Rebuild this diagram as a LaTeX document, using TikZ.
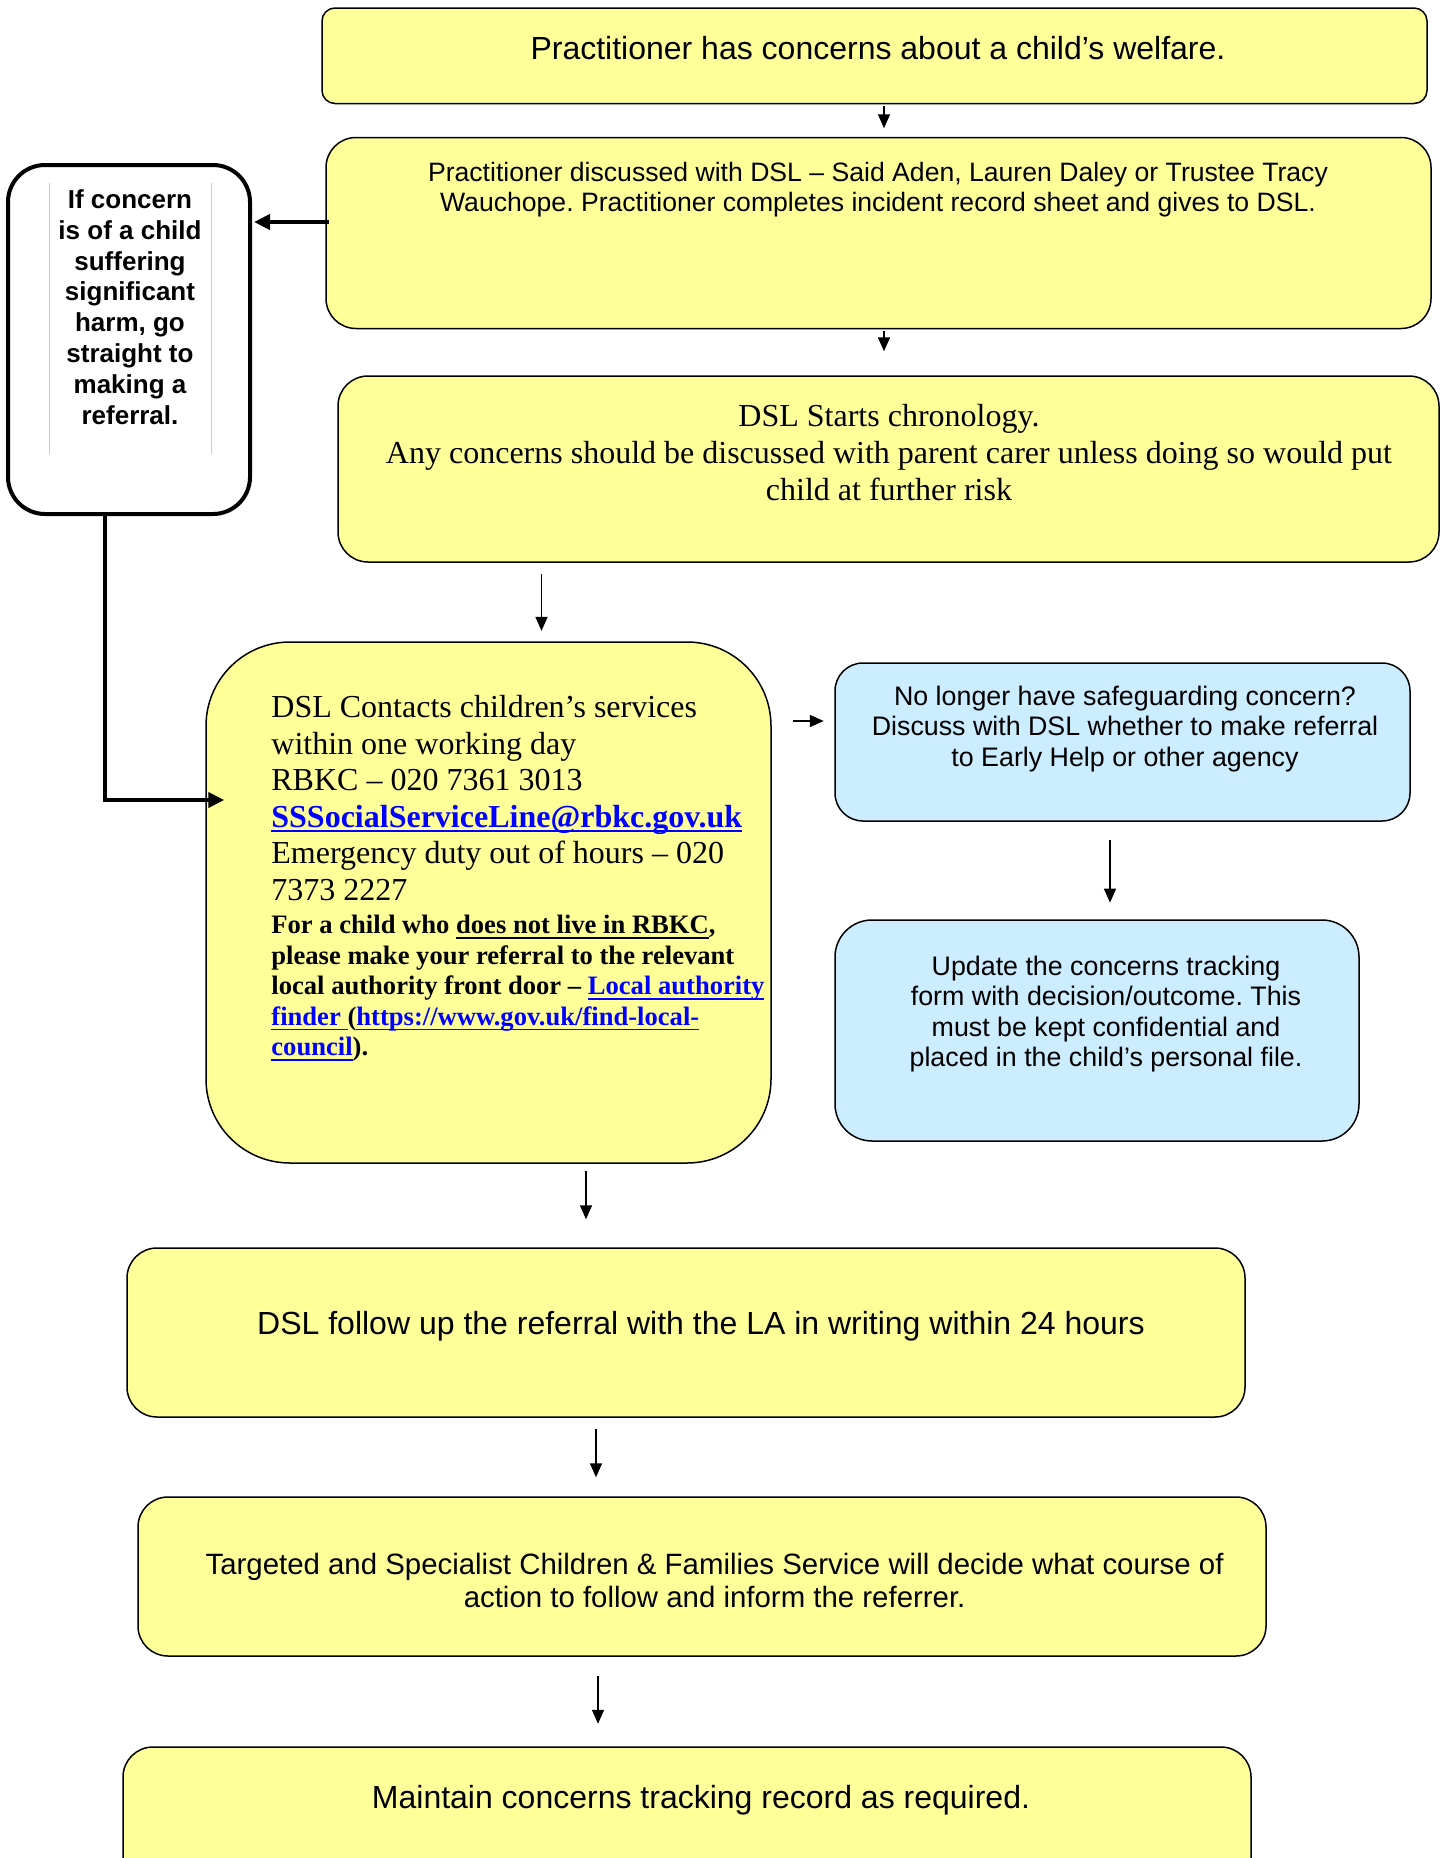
\documentclass[tikz,border=0pt]{standalone}
\usepackage{fontspec}
\setmainfont{Liberation Sans}
\newfontfamily\timesfont{Liberation Serif}
\usetikzlibrary{arrows.meta,positioning}
\frenchspacing

\definecolor{Cboxyellow}{HTML}{FFFF99}
\definecolor{Cboxblue}{HTML}{CCECFF}
\definecolor{Clinkblue}{HTML}{0000FF}

\newcommand{\undl}[1]{\leavevmode\setbox0=\hbox{#1}\rlap{\rule[-2.5pt]{\wd0}{0.9pt}}\box0}
\newcommand{\weblink}[1]{{\color{Clinkblue}\undl{#1}}}

\begin{document}
\begin{tikzpicture}[x=0.5pt,y=-0.5pt,
		yellowbox/.style={draw,line width=0.75pt,fill=Cboxyellow,rounded corners=15pt},
		bluebox/.style={draw,line width=0.75pt,fill=Cboxblue,rounded corners=14pt},
		arr/.style={line width=0.75pt,-{Triangle[length=7pt,width=6pt]}},
		thickarr/.style={line width=2pt,-{Triangle[length=8pt,width=7.5pt]}},
		txt/.style={inner sep=0pt,align=center}]
		\useasboundingbox (0,0) rectangle (1441,1858);
		\clip (0,0) rectangle (1441,1858);

		% boxes
		\node[yellowbox,rounded corners=6.5pt,minimum width=552.5pt,minimum height=47.75pt] (A) at (874.5,55.75) {};
		\node[yellowbox,minimum width=552.5pt,minimum height=95.5pt] (B) at (878.5,233) {};
		\node[yellowbox,minimum width=550.5pt,minimum height=93pt] (C) at (888.5,469) {};
		\node[yellowbox,rounded corners=42pt,minimum width=282.5pt,minimum height=260.5pt] (D) at (488.5,902.5) {};
		\node[draw,line width=2pt,rounded corners=18.5pt,minimum width=121pt,minimum height=174.5pt] (E) at (129,339.5) {};
		\node[bluebox,minimum width=287.5pt,minimum height=79pt] (F) at (1122.5,742) {};
		\node[bluebox,rounded corners=18.5pt,minimum width=262pt,minimum height=110.5pt] (G) at (1097,1030.5) {};
		\node[yellowbox,minimum width=559pt,minimum height=84.5pt] (H) at (686,1332.5) {};
		\node[yellowbox,minimum width=564pt,minimum height=79.5pt] (I) at (702,1576.5) {};
		\node[yellowbox,minimum width=564pt,minimum height=85pt] (J) at (687,1832) {};

		% texts
		\node[txt,font=\fontsize{16}{18.4}\selectfont] (Atext) at (878,48) {Practitioner has concerns about a child’s welfare.};
		\node[txt,font=\fontsize{13.3}{15}\selectfont] (Btext) at (878,190) {Practitioner discussed with DSL – Said Aden, Lauren Daley or Trustee Tracy\\Wauchope. Practitioner completes incident record sheet and gives to DSL.};
		\node[txt,font=\timesfont\fontsize{16}{18.4}\selectfont] (Ctext) at (889,452.5) {DSL Starts chronology.\\Any concerns should be discussed with parent carer unless doing so would put\\child at further risk};
		\node[txt,align=left,anchor=north west,font=\timesfont\fontsize{16}{18.25}\selectfont] (Dtext) at (271,695) {DSL Contacts children’s services\\within one working day\\RBKC – 020 7361 3013\\\textbf{\weblink{SSSocialServiceLine@rbkc.gov.uk}}\\Emergency duty out of hours – 020\\7373 2227};
		\node[txt,align=left,anchor=north west,font=\timesfont\bfseries\fontsize{13.3}{15.25}\selectfont] (Dnote) at (271,915) {For a child who \undl{does not live in RBKC},\\please make your referral to the relevant\\local authority front door – \weblink{Local authority}\\\weblink{finder }(\weblink{https://www.gov.uk/find-local-}\\\weblink{council}).};
		\node[txt,font=\bfseries\fontsize{13}{15.4}\selectfont] (Etext) at (130,307) {If concern\\is of a child\\suffering\\significant\\harm, go\\straight to\\making a\\referral.};
		\node[txt,font=\fontsize{13.4}{15.1}\selectfont] (Ftext) at (1125,729) {No longer have safeguarding concern?\\Discuss with DSL whether to make referral\\to Early Help or other agency};
		\node[txt,font=\fontsize{13.4}{15.2}\selectfont] (Gtext) at (1106,1014) {Update the concerns tracking\\form with decision/outcome. This\\must be kept confidential and\\placed in the child’s personal file.};
		\node[txt,font=\fontsize{16}{18.4}\selectfont] (Htext) at (701,1326) {DSL follow up the referral with the LA in writing within 24 hours};
		\node[txt,font=\fontsize{14.7}{16.5}\selectfont] (Itext) at (714.6,1580) {Targeted and Specialist Children \& Families Service will decide what course of\\action to follow and inform the referrer.};
		\node[txt,font=\fontsize{16}{18.4}\selectfont] (Jtext) at (701,1800) {Maintain concerns tracking record as required.};

		\draw[black!20,line width=0.5pt] (49,183) -- (49,454);
		\draw[black!20,line width=0.5pt] (211,183) -- (211,454);

		% connectors
		\coordinate (colAB) at (884,0);
		\coordinate (colCD) at (541.5,0);
		\coordinate (colDH) at (586,0);
		\coordinate (colHI) at (596,0);
		\coordinate (colIJ) at (598,0);
		\coordinate (colFG) at (1110,0);
		\coordinate (colE) at (105,0);
		\coordinate (rowDF) at (0,721);
		\coordinate (rowBE) at (0,222);
		\coordinate (rowED) at (0,800);
		\draw[arr,shorten <=0.75pt,shorten >=4.25pt] (A.south -| colAB) -- (B.north -| colAB);
		\draw[arr,shorten <=0.75pt,shorten >=12pt] (B.south -| colAB) -- (C.north -| colAB);
		\draw[arr,shorten <=5.75pt,shorten >=5.2pt] (C.south -| colCD) -- (D.north -| colCD);
		\draw[arr,shorten <=10.5pt,shorten >=5.25pt] (D.east |- rowDF) -- (F.west |- rowDF);
		\draw[arr,shorten <=9pt,shorten >=8.3pt] (F.south -| colFG) -- (G.north -| colFG);
		\draw[arr,shorten <=3.5pt,shorten >=14pt] (D.south -| colDH) -- (H.north -| colDH);
		\draw[arr,shorten <=5.75pt,shorten >=9.5pt] (H.south -| colHI) -- (I.north -| colHI);
		\draw[arr,shorten <=9.5pt,shorten >=11.25pt] (I.south -| colIJ) -- (J.north -| colIJ);
		\draw[thickarr,shorten <=-2pt,shorten >=1pt] (B.west |- rowBE) -- (E.east |- rowBE);
		\draw[thickarr,shorten >=-9.5pt] (E.south -| colE) |- (D.west |- rowED);
	\end{tikzpicture}
\end{document}
